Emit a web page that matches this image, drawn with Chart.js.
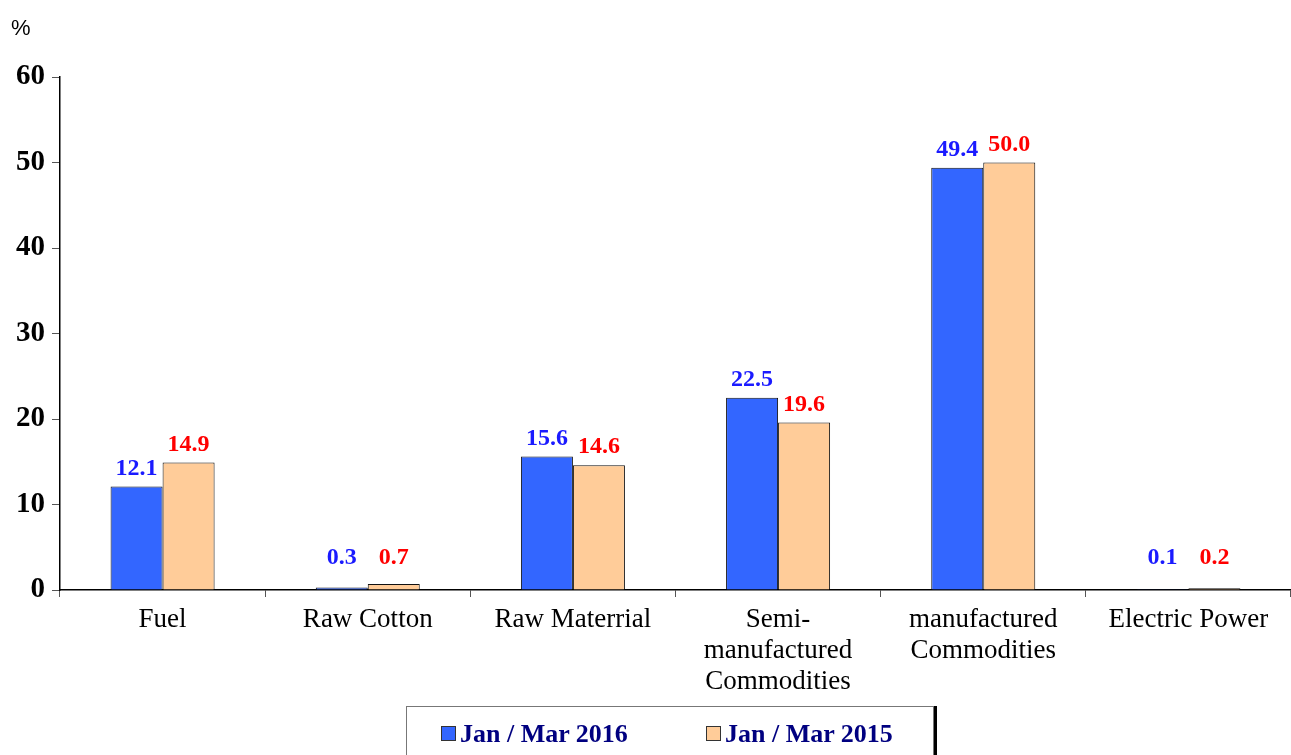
<!DOCTYPE html>
<html>
<head>
<meta charset="utf-8">
<script src="https://cdn.jsdelivr.net/npm/chart.js@4/dist/chart.umd.min.js"></script>
<style>
  html, body { margin:0; padding:0; background:#fff; overflow:hidden; }
  #wrap { position:relative; width:1291px; height:755px; }
  #legend {
    position:absolute; left:406px; top:706px; width:526px; height:60px;
    border:1px solid #777; box-shadow:3px 0 0 #000;
    font:bold 26px "Liberation Serif", "Times New Roman", serif; color:#000080;
  }
  #legend span.item { position:absolute; top:12px; white-space:nowrap; }
  #legend i { display:inline-block; width:13px; height:13px; border:1px solid #333; margin-right:4px; vertical-align:1px; }
</style>
</head>
<body>
<div id="wrap">
  <canvas id="c" width="1291" height="755"></canvas>
  <div id="legend"></div>
</div>
<script>
const categories = [
  'Fuel',
  'Raw Cotton',
  'Raw Materrial',
  ['Semi-', 'manufactured', 'Commodities'],
  ['manufactured', 'Commodities'],
  'Electric Power'
];
const seriesNames = ['Jan / Mar 2016', 'Jan / Mar 2015'];
const values2016 = [12.1, 0.3, 15.6, 22.5, 49.4, 0.1];
const values2015 = [14.9, 0.7, 14.6, 19.6, 50.0, 0.2];
const yTicks = [0, 10, 20, 30, 40, 50, 60];

const barColors = ['#3366FF', '#FFCC99'];
const labelColors = ['#1a1aff', '#ff0000'];
const serif = '"Liberation Serif", "Times New Roman", serif';

// legend (html)
const lg = document.getElementById('legend');
[[34, 0], [299, 1]].forEach(([left, i]) => {
  const s = document.createElement('span');
  s.className = 'item';
  s.style.left = left + 'px';
  s.innerHTML = '<i style="background:' + barColors[i] + '"></i>' + seriesNames[i];
  lg.appendChild(s);
});

const valueLabels = {
  id: 'valueLabels',
  afterDatasetsDraw(chart) {
    const ctx = chart.ctx;
    ctx.save();
    ctx.font = 'bold 24px ' + serif;
    ctx.textAlign = 'center';
    ctx.textBaseline = 'bottom';
    chart.data.datasets.forEach((ds, di) => {
      const meta = chart.getDatasetMeta(di);
      ctx.fillStyle = labelColors[di];
      meta.data.forEach((bar, i) => {
        const y = Math.min(bar.y - 6, chart.scales.y.getPixelForValue(0) - 20);
        ctx.fillText(ds.data[i].toFixed(1), bar.x, y);
      });
    });
    // unit label
    ctx.font = '22px "Liberation Sans", Arial, sans-serif';
    ctx.fillStyle = '#000';
    ctx.textAlign = 'left';
    ctx.textBaseline = 'middle';
    ctx.fillText('%', 11, 29);
    ctx.restore();
  }
};

new Chart(document.getElementById('c'), {
  type: 'bar',
  data: {
    labels: categories,
    datasets: [values2016, values2015].map((d, i) => ({
      label: seriesNames[i],
      data: d,
      backgroundColor: barColors[i],
      borderColor: '#111',
      borderWidth: 1,
      borderSkipped: 'bottom',
      barPercentage: 1,
      categoryPercentage: 0.507,
    }))
  },
  options: {
    responsive: false,
    animation: false,
    layout: { padding: { top: 77, right: 0, bottom: 55, left: 0 } },
    plugins: { legend: { display: false }, tooltip: { enabled: false } },
    scales: {
      x: {
        grid: { display: true, drawOnChartArea: false, offset: true, color: '#555', tickLength: 7 },
        border: { color: '#000', width: 1.5 },
        ticks: { color: '#000', font: { family: serif, size: 27, lineHeight: 1.15 }, padding: 7, maxRotation: 0, autoSkip: false },
        afterFit: s => { s.height = 110; }
      },
      y: {
        min: 0, max: 60,
        afterBuildTicks: s => { s.ticks = yTicks.map(v => ({ value: v })); },
        grid: { display: true, drawOnChartArea: false, color: '#555', tickLength: 8 },
        border: { color: '#000', width: 1.5 },
        ticks: { color: '#000', font: { family: serif, size: 29, weight: 'bold' }, padding: 7 },
        afterFit: s => { s.width = 60; }
      }
    }
  },
  plugins: [valueLabels]
});
</script>
</body>
</html>
